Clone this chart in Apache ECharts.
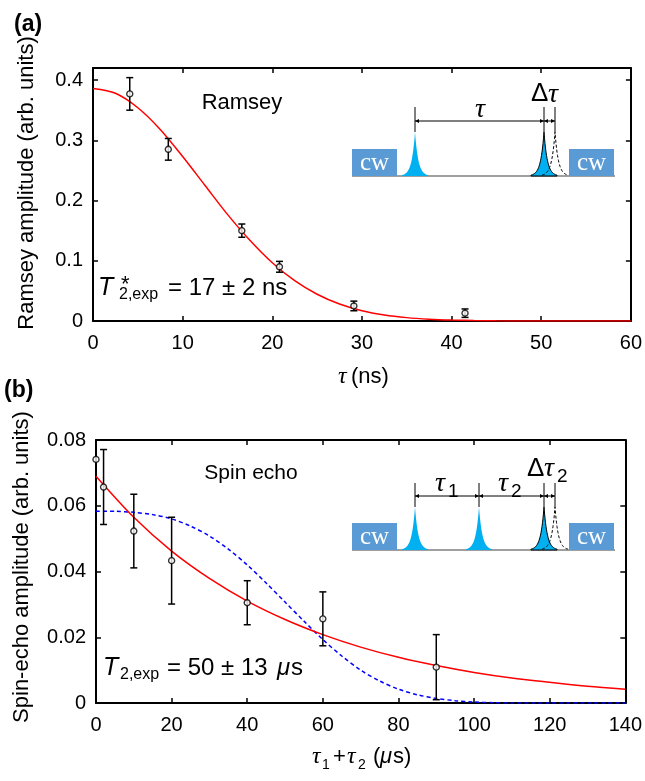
<!DOCTYPE html>
<html>
<head>
<meta charset="utf-8">
<script src="https://cdn.jsdelivr.net/npm/echarts@6/dist/echarts.min.js"></script>
<style>
  html, body { margin: 0; padding: 0; background: #fff; }
  #chart { width: 645px; height: 781px; }
</style>
</head>
<body>
<div id="chart"></div>
<script>
// ---- Panel (a): Ramsey fringe amplitude vs free-evolution time ----
const ramseyTau = [4.1, 8.4, 16.6, 20.8, 29.1, 41.5];
const ramseyAmp = [0.377, 0.285, 0.150, 0.090, 0.025, 0.013];
const ramseyErr = [0.027, 0.018, 0.011, 0.009, 0.008, 0.007];

// Gaussian decay fit, T2* = 17 ns
const ramseyFitTau = [0, 2.5, 5, 7.5, 10, 12.5, 15, 17.5, 20, 22.5, 25, 27.5, 30, 32.5, 35, 37.5, 40, 42.5, 45, 47.5, 50, 55, 60];
const ramseyFitAmp = [0.386, 0.378, 0.354, 0.318, 0.273, 0.225, 0.177, 0.134, 0.0967, 0.0670, 0.0444, 0.0282, 0.0171, 0.0100, 0.0056, 0.0030, 0.0015, 0.0007, 0.0003, 0.0001, 0, 0, 0];

const ramseyXTicks = [0, 60, 10];
const ramseyYTicks = [0, 0.42, 0.1];

// ---- Panel (b): spin-echo amplitude vs total delay ----
const echoTime = [0, 2, 10, 20, 40, 60, 90];
const echoAmp = [0.0741, 0.0657, 0.0523, 0.0433, 0.0305, 0.0256, 0.0109];
const echoErr = [0, 0.0114, 0.0112, 0.0132, 0.0067, 0.0082, 0.0099];

// Exponential fit, T2 = 50 us
const echoExpTime = [0, 10, 20, 30, 40, 50, 60, 70, 80, 90, 100, 110, 120, 130, 140];
const echoExpAmp = [0.0690, 0.0565, 0.0462, 0.0379, 0.0310, 0.0254, 0.0208, 0.0170, 0.0139, 0.0114, 0.0093, 0.0076, 0.0063, 0.0051, 0.0042];

// Cubic-exponential comparison curve (dashed)
const echoCubTime = [0, 5, 10, 15, 20, 25, 30, 35, 40, 45, 50, 55, 60, 65, 70, 75, 80, 85, 90, 95, 100, 105, 110, 115, 120, 125, 130, 135, 140];
const echoCubAmp = [0.0583, 0.0583, 0.0580, 0.0573, 0.0560, 0.0538, 0.0508, 0.0468, 0.0420, 0.0365, 0.0307, 0.0249, 0.0193, 0.0143, 0.0100, 0.0067, 0.0042, 0.0025, 0.0014, 0.0007, 0.0003, 0.0001, 0, 0, 0, 0, 0, 0, 0];

const echoXTicks = [0, 140, 20];
const echoYTicks = [0, 0.08, 0.02];

const SANS = '"Liberation Sans", Arial, Helvetica, sans-serif';
const SERIF = '"Liberation Serif", "DejaVu Serif", serif';

const zip = (xs, ys) => xs.map((x, i) => [x, ys[i]]);
const zip3 = (xs, ys, es) => xs.map((x, i) => [x, ys[i], es[i]]);

function xAxisPair(grid, ticks) {
  const base = {
    gridIndex: grid, type: 'value', min: ticks[0], max: ticks[1], interval: ticks[2],
    axisLine: { show: true, onZero: false, lineStyle: { color: '#000', width: 2 } },
    axisTick: { show: true, inside: true, length: 5, lineStyle: { color: '#000', width: 1.5 } },
    splitLine: { show: false }
  };
  return [
    Object.assign({}, base, { position: 'bottom',
      axisLabel: { fontSize: 20, color: '#000', fontFamily: SANS, margin: 12 } }),
    Object.assign({}, base, { position: 'top', axisLabel: { show: false } })
  ];
}

function yAxisPair(grid, ticks, digits) {
  const fmt = v => {
    if (Math.abs(v) < 1e-9) return '0';
    const k = v / ticks[2];
    if (Math.abs(k - Math.round(k)) > 1e-6) return '';
    return v.toFixed(digits);
  };
  const base = {
    gridIndex: grid, type: 'value', min: ticks[0], max: ticks[1], interval: ticks[2],
    axisLine: { show: true, onZero: false, lineStyle: { color: '#000', width: 2 } },
    axisTick: { show: true, inside: true, length: 5, lineStyle: { color: '#000', width: 1.5 } },
    splitLine: { show: false }
  };
  return [
    Object.assign({}, base, { position: 'left',
      axisLabel: { fontSize: 20, color: '#000', fontFamily: SANS, margin: 10, formatter: fmt } }),
    Object.assign({}, base, { position: 'right', axisLabel: { show: false } })
  ];
}

function errorBars(xi, yi, data) {
  return {
    type: 'custom', xAxisIndex: xi, yAxisIndex: yi, z: 3,
    data: data, encode: { x: 0, y: 1 }, clip: false,
    renderItem: function (params, api) {
      const x = api.value(0), y = api.value(1), e = api.value(2);
      if (!e) return null;
      const top = api.coord([x, y + e]);
      const bot = api.coord([x, y - e]);
      const cap = 3.5;
      const st = { stroke: '#000', lineWidth: 1.5 };
      return {
        type: 'group',
        children: [
          { type: 'line', shape: { x1: top[0], y1: top[1], x2: bot[0], y2: bot[1] }, style: st },
          { type: 'line', shape: { x1: top[0] - cap, y1: top[1], x2: top[0] + cap, y2: top[1] }, style: st },
          { type: 'line', shape: { x1: bot[0] - cap, y1: bot[1], x2: bot[0] + cap, y2: bot[1] }, style: st }
        ]
      };
    }
  };
}

function markers(xi, yi, data) {
  return {
    type: 'scatter', xAxisIndex: xi, yAxisIndex: yi, z: 4, clip: false,
    data: data, symbol: 'circle', symbolSize: 6,
    itemStyle: { color: '#fff', borderColor: '#000', borderWidth: 1.4 },
    emphasis: { disabled: true }
  };
}

// ---- text helper: y is the vertical middle of the text box ----
function txt(x, y, s, font, opts) {
  opts = opts || {};
  return {
    type: 'text', x: x, y: y, rotation: opts.rotation || 0, z: 20, silent: true,
    style: {
      text: s, font: font, fill: opts.fill || '#000',
      align: opts.align || 'left', textAlign: opts.align || 'left',
      verticalAlign: 'middle', textVerticalAlign: 'middle'
    }
  };
}

// ---- pulse-sequence sketches ----
function pulseShape(cx, baseY, h, w, half) {
  const pts = [];
  for (let dx = -half; dx <= half + 1e-9; dx += 0.5) {
    pts.push([cx + dx, baseY - h * Math.exp(-Math.abs(dx) / w)]);
  }
  return pts;
}

function pulse(cx, baseY, h, mode) {
  const pts = pulseShape(cx, baseY, h, 3.3, 13);
  if (mode === 'fill') {
    return { type: 'polygon', z: 11, silent: true, shape: { points: pts.concat([[cx + 13, baseY], [cx - 13, baseY]]) },
      style: { fill: '#00B0F0', stroke: null } };
  }
  if (mode === 'outlined') {
    return { type: 'polygon', z: 12, silent: true, shape: { points: pts.concat([[cx + 13, baseY], [cx - 13, baseY]]) },
      style: { fill: '#00B0F0', stroke: '#000', lineWidth: 1 } };
  }
  return { type: 'polyline', z: 13, silent: true, shape: { points: pts },
    style: { fill: null, stroke: '#000', lineWidth: 1, lineDash: [3, 2] } };
}

function arrowSpan(x1, x2, y) {
  const a = 4, b = 2;
  return [
    { type: 'line', z: 14, silent: true, shape: { x1: x1, y1: y, x2: x2, y2: y }, style: { stroke: '#000', lineWidth: 1 } },
    { type: 'polygon', z: 14, silent: true, shape: { points: [[x1, y], [x1 + a, y - b], [x1 + a, y + b]] }, style: { fill: '#000' } },
    { type: 'polygon', z: 14, silent: true, shape: { points: [[x2, y], [x2 - a, y - b], [x2 - a, y + b]] }, style: { fill: '#000' } }
  ];
}

function vmark(x, y1, y2) {
  return { type: 'line', z: 14, silent: true, shape: { x1: x, y1: y1, x2: x, y2: y2 }, style: { stroke: '#000', lineWidth: 1 } };
}

function cwBox(x, y, w, h) {
  return [
    { type: 'rect', z: 10, silent: true, shape: { x: x, y: y, width: w, height: h }, style: { fill: '#5B9BD5' } },
    txt(x + w / 2, y + h / 2 + 1, 'cw', '25px ' + SERIF, { fill: '#fff', align: 'center' })
  ];
}

function sequenceFrame(baseY) {
  const out = [];
  out.push({ type: 'line', z: 9, silent: true, shape: { x1: 352, y1: baseY, x2: 615, y2: baseY }, style: { stroke: '#7F7F7F', lineWidth: 1.5 } });
  out.push.apply(out, cwBox(352, baseY - 27, 45, 27));
  out.push.apply(out, cwBox(569, baseY - 27, 45, 27));
  return out;
}

const graphics = [];
// panel (a) sketch: Ramsey sequence
(function () {
  const baseY = 176, ph = 44;
  graphics.push.apply(graphics, sequenceFrame(baseY));
  graphics.push(pulse(415, baseY, ph, 'fill'));
  graphics.push(pulse(544, baseY, ph, 'outlined'));
  graphics.push(pulse(555, baseY, ph, 'dashed'));
  graphics.push(vmark(415, 107, baseY - ph));
  graphics.push(vmark(544, 107, baseY - ph));
  graphics.push(vmark(555, 107, baseY - ph));
  graphics.push.apply(graphics, arrowSpan(415, 544, 121));
  graphics.push.apply(graphics, arrowSpan(544, 555, 121));
  graphics.push(txt(480, 110, 'τ', 'italic 28px ' + SERIF, { align: 'center' }));
  graphics.push(txt(531, 94, 'Δ', '26px ' + SANS));
  graphics.push(txt(548, 95, 'τ', 'italic 28px ' + SERIF));
})();
// panel (b) sketch: Hahn-echo sequence
(function () {
  const baseY = 550, ph = 43;
  graphics.push.apply(graphics, sequenceFrame(baseY));
  graphics.push(pulse(415, baseY, ph, 'fill'));
  graphics.push(pulse(479, baseY, ph, 'fill'));
  graphics.push(pulse(544, baseY, ph, 'outlined'));
  graphics.push(pulse(555, baseY, ph, 'dashed'));
  [415, 479, 544, 555].forEach(x => graphics.push(vmark(x, 483, baseY - ph)));
  graphics.push.apply(graphics, arrowSpan(415, 479, 496));
  graphics.push.apply(graphics, arrowSpan(479, 544, 496));
  graphics.push.apply(graphics, arrowSpan(544, 555, 496));
  graphics.push(txt(435, 484, 'τ', 'italic 28px ' + SERIF));
  graphics.push(txt(448, 492, '1', '19px ' + SANS));
  graphics.push(txt(498, 484, 'τ', 'italic 28px ' + SERIF));
  graphics.push(txt(511, 492, '2', '19px ' + SANS));
  graphics.push(txt(527, 469, 'Δ', '26px ' + SANS));
  graphics.push(txt(544, 469, 'τ', 'italic 28px ' + SERIF));
  graphics.push(txt(557, 477, '2', '19px ' + SANS));
})();

// panel letters, axis titles, annotations
graphics.push(txt(14, 25, '(a)', 'bold 23px ' + SANS));
graphics.push(txt(4, 391, '(b)', 'bold 23px ' + SANS));
graphics.push(txt(27, 183, 'Ramsey amplitude (arb. units)', '22px ' + SANS, { align: 'center', rotation: Math.PI / 2 }));
graphics.push(txt(22, 567, 'Spin-echo amplitude (arb. units)', '22px ' + SANS, { align: 'center', rotation: Math.PI / 2 }));

graphics.push(txt(338, 377, 'τ', 'italic 24px ' + SERIF));
graphics.push(txt(351, 377, '(ns)', '22px ' + SANS));

graphics.push(txt(312, 757, 'τ', 'italic 24px ' + SERIF));
graphics.push(txt(322, 765, '1', '14px ' + SANS));
graphics.push(txt(333, 757, '+', '22px ' + SANS));
graphics.push(txt(347, 757, 'τ', 'italic 24px ' + SERIF));
graphics.push(txt(358, 765, '2', '14px ' + SANS));
graphics.push(txt(373, 757, '(', '22px ' + SANS));
graphics.push(txt(380, 757, 'μ', 'italic 22px ' + SANS));
graphics.push(txt(393, 757, 's)', '22px ' + SANS));

graphics.push(txt(242, 103, 'Ramsey', '22px ' + SANS, { align: 'center' }));
graphics.push(txt(251, 473, 'Spin echo', '21px ' + SANS, { align: 'center' }));

// T2* annotation (a), baseline near y = 297
graphics.push(txt(98, 288, 'T', 'italic 25px ' + SANS));
graphics.push(txt(121, 285, '*', '22px ' + SANS));
graphics.push(txt(119, 295, '2,exp', '16px ' + SANS));
graphics.push(txt(168, 288, '= 17 ± 2 ns', '24px ' + SANS));
// T2 annotation (b), baseline near y = 677
graphics.push(txt(103, 668, 'T', 'italic 25px ' + SANS));
graphics.push(txt(120, 675, '2,exp', '16px ' + SANS));
graphics.push(txt(167, 668, '= 50 ± 13', '24px ' + SANS));
graphics.push(txt(277, 668, 'μ', 'italic 24px ' + SANS));
graphics.push(txt(291, 668, 's', '24px ' + SANS));

const chart = echarts.init(document.getElementById('chart'), null, { renderer: 'canvas' });
chart.setOption({
  animation: false,
  backgroundColor: '#fff',
  grid: [
    { left: 93, top: 68, width: 540, height: 253 },
    { left: 96, top: 440, width: 531, height: 263 }
  ],
  xAxis: xAxisPair(0, ramseyXTicks).concat(xAxisPair(1, echoXTicks)),
  yAxis: yAxisPair(0, ramseyYTicks, 1).concat(yAxisPair(1, echoYTicks, 2)),
  series: [
    { type: 'line', xAxisIndex: 0, yAxisIndex: 0, z: 2, data: zip(ramseyFitTau, ramseyFitAmp),
      showSymbol: false, smooth: 0.3, lineStyle: { color: '#ff0000', width: 1.5 } },
    errorBars(0, 0, zip3(ramseyTau, ramseyAmp, ramseyErr)),
    markers(0, 0, zip(ramseyTau, ramseyAmp)),
    { type: 'line', xAxisIndex: 2, yAxisIndex: 2, z: 2, data: zip(echoCubTime, echoCubAmp),
      showSymbol: false, smooth: 0.3, lineStyle: { color: '#0000ff', width: 1.5, type: [4, 3] } },
    { type: 'line', xAxisIndex: 2, yAxisIndex: 2, z: 2, data: zip(echoExpTime, echoExpAmp),
      showSymbol: false, smooth: 0.3, lineStyle: { color: '#ff0000', width: 1.5 } },
    errorBars(2, 2, zip3(echoTime, echoAmp, echoErr)),
    markers(2, 2, zip(echoTime, echoAmp))
  ],
  graphic: graphics
});
</script>
</body>
</html>
